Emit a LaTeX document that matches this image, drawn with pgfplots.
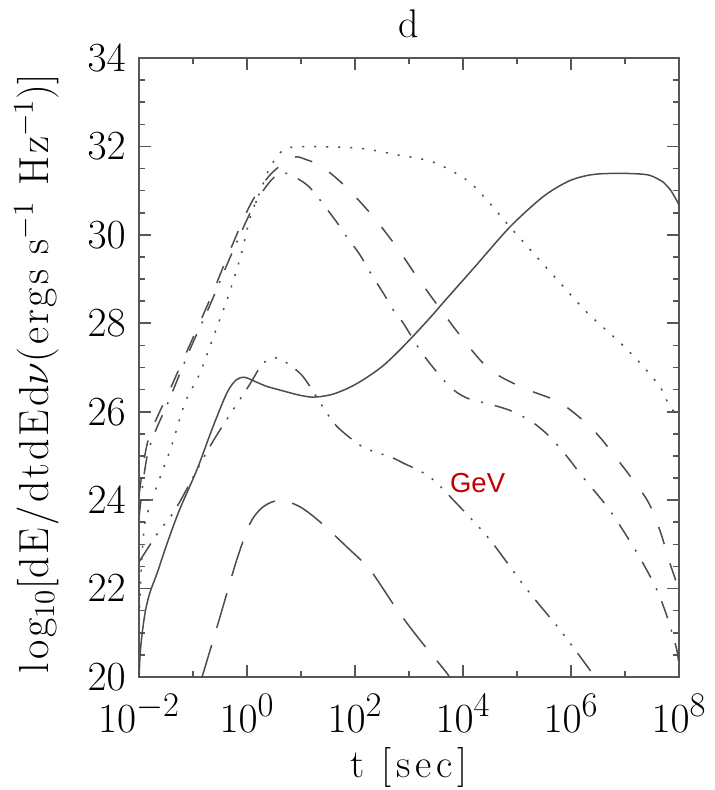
\documentclass[border=0pt]{standalone}
\usepackage{fontspec}
\usepackage{pgfplots}
\pgfplotsset{compat=1.18}
\newfontfamily\arialfont{Liberation Sans}
\newfontfamily\lmspaced[LetterSpace=12]{Latin Modern Roman}
\newfontfamily\lmspacedy[LetterSpace=7]{Latin Modern Roman}
\definecolor{curve}{rgb}{0.30,0.30,0.30}
\definecolor{framec}{rgb}{0.34,0.34,0.34}
\definecolor{gevred}{rgb}{0.76,0.0,0.0}
\newcommand{\ex}[1]{10^{\mbox{\fontsize{17}{20}\selectfont$#1$}}}
\begin{document}
\begin{tikzpicture}
\useasboundingbox (-69.5pt,-56.5pt) rectangle (288pt,338.5pt);
\begin{axis}[
  at={(0,0)}, anchor=south west,
  scale only axis, width=270pt, height=309.5pt,
  xmin=-2, xmax=8, ymin=20, ymax=34,
  xtick={-2,0,2,4,6,8},
  xticklabels={$\ex{-2}$,$\ex{0}$,$\ex{2}$,$\ex{4}$,$\ex{6}$,$\ex{8}$},
  minor xtick={-1,1,3,5,7},
  ytick={20,22,24,26,28,30,32,34},
  minor y tick num=3,
  axis line style={framec, line width=1pt},
  every tick/.style={framec, line width=0.8pt},
  major tick length=6pt, minor tick length=3pt,
  tick label style={font=\fontsize{20}{24}\selectfont},
  xticklabel style={anchor=base, yshift=-27.5pt},
  yticklabel style={anchor=east, inner sep=0pt, xshift=-6.5pt},
  title={d},
  title style={at={(axis description cs:0.5,1)}, anchor=base, yshift=4pt, font=\fontsize{20}{24}\selectfont},
  xlabel={t [sec]},
  every axis x label/.style={at={(axis description cs:0.5,0)}, anchor=base, yshift=-50pt, font=\lmspaced\fontsize{20}{24}\selectfont},
  ylabel={log$_{10}$\big[dE/dtdEd$\nu$(ergs s$^{-1}$ Hz$^{-1}$)\big]},
  every axis y label/.style={at={(axis description cs:-0.1685,0.49)}, rotate=90, anchor=base, font=\lmspacedy\fontsize{21}{25}\selectfont},
  every axis plot/.append style={curve, line width=0.75pt},
]
% solid
\addplot[smooth, tension=0.5] coordinates {
(-2.00,19.9) (-1.98,20.5) (-1.94,21.0) (-1.88,21.5) (-1.80,21.9) (-1.65,22.4)
(-1.50,22.95) (-1.26,23.75) (-0.93,24.68) (-0.63,25.66) (-0.37,26.43)
(-0.20,26.72) (-0.05,26.78) (0.10,26.71) (0.35,26.58) (0.61,26.49) (0.95,26.38)
(1.22,26.33) (1.54,26.38) (1.85,26.52) (2.15,26.72) (2.50,27.02) (2.80,27.36)
(3.10,27.74) (3.40,28.14) (3.70,28.56) (4.20,29.25) (4.87,30.18) (5.48,30.86)
(5.93,31.20) (6.25,31.33) (6.54,31.38) (7.00,31.39) (7.41,31.36) (7.60,31.27)
(7.70,31.20) (7.85,31.00) (8.00,30.68)};
% dotted
\addplot[smooth, tension=0.5, dash pattern=on 1pt off 5pt] coordinates {
(-2.00,21.3) (-1.95,22.6) (-1.89,23.48) (-1.74,24.07) (-1.56,24.68) (-1.39,25.25)
(-1.15,26.20) (-0.93,26.72) (-0.81,27.06) (-0.63,27.67) (-0.35,28.60) (-0.11,29.55)
(0.06,30.40) (0.25,31.0) (0.43,31.54) (0.67,31.92) (0.93,31.99) (1.54,31.99)
(2.15,31.95) (2.78,31.81) (3.44,31.65) (4.07,31.24) (4.44,30.79) (4.87,30.18)
(5.30,29.59) (5.80,28.91) (6.30,28.24) (6.91,27.56) (7.28,27.10) (7.65,26.56)
(7.83,26.11) (8.00,25.93)};
% dashed
\addplot[smooth, tension=0.5, dash pattern=on 9pt off 10pt] coordinates {
(-2.00,24.1) (-1.83,25.36) (-1.43,26.49) (-1.06,27.51) (-0.69,28.53) (-0.31,29.66)
(0.06,30.68) (0.43,31.36) (0.85,31.75) (1.10,31.70) (1.39,31.54) (1.81,31.11)
(2.31,30.45) (2.78,29.71) (3.20,28.96) (3.98,27.67) (4.50,26.95) (5.11,26.54)
(5.80,26.20) (6.41,25.59) (6.91,24.84) (7.41,24.00) (7.65,23.30) (7.83,22.58)
(8.00,21.97)};
% dash-dot
\addplot[smooth, tension=0.5, dash pattern=on 9pt off 6pt on 1pt off 6pt] coordinates {
(-2.00,23.6) (-1.83,25.1) (-1.43,26.3) (-1.06,27.4) (-0.69,28.4) (-0.31,29.5)
(0.06,30.5) (0.30,31.0) (0.50,31.3) (0.70,31.40) (0.98,31.24) (1.20,31.02)
(1.63,30.34) (1.85,29.95) (2.09,29.55) (2.31,29.09) (2.52,28.69) (2.74,28.24)
(2.89,28.01) (3.20,27.40) (3.44,27.01) (3.76,26.56) (4.07,26.31) (4.56,26.15)
(4.93,26.00) (5.30,25.75) (5.61,25.43) (5.93,24.98) (6.22,24.52) (6.67,23.85)
(7.04,23.17) (7.33,22.58) (7.59,21.97) (7.78,21.36) (7.96,20.61) (8.00,20.2)};
% dash-dot-dot-dot
\addplot[smooth, tension=0.5, dash pattern=on 11pt off 5pt on 1pt off 5pt on 1pt off 5pt on 1pt off 5pt] coordinates {
(-2.00,22.6) (-1.65,23.26) (-1.33,23.78) (-0.83,24.9) (-0.56,25.47) (0.02,26.56)
(0.30,27.10) (0.56,27.22) (0.74,27.10) (1.04,26.79) (1.41,26.10) (1.67,25.66)
(2.15,25.20) (2.65,24.98) (2.89,24.84) (3.39,24.52) (3.94,23.85) (4.50,23.10)
(5.19,21.97) (5.80,21.06) (6.39,20.09) (6.45,19.95)};
% long dash
\addplot[smooth, tension=0.5, dash pattern=on 18pt off 9pt] coordinates {
(-0.85,19.95) (-0.81,20.09) (-0.50,21.36) (-0.19,22.65) (0.06,23.48) (0.30,23.85)
(0.61,24.00) (0.98,23.85) (1.35,23.51) (1.85,22.94) (2.28,22.42) (2.78,21.52)
(3.20,20.84) (3.70,20.09) (3.75,19.95)};
\node[text=gevred, font=\arialfont\fontsize{13.75}{16}\selectfont] at (axis cs:4.27,24.39) {GeV};
\end{axis}
\end{tikzpicture}
\end{document}
